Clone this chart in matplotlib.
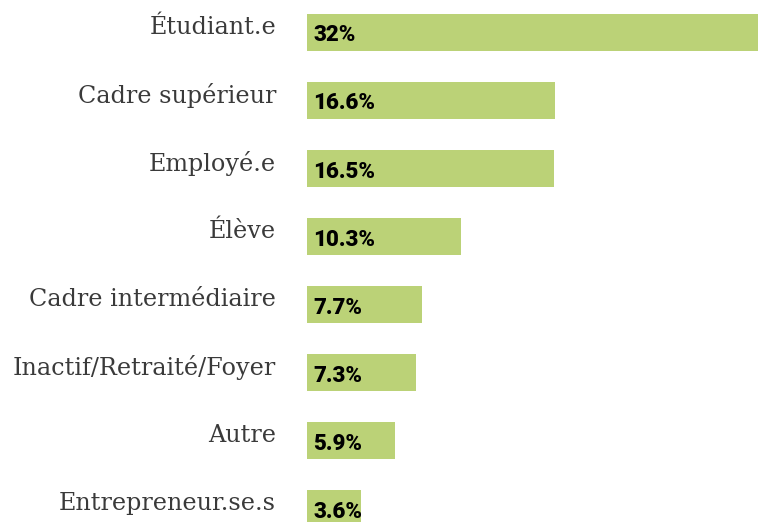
import matplotlib
matplotlib.use("Agg")
import matplotlib.pyplot as plt

categories = ["Étudiant.e", "Cadre supérieur", "Employé.e", "Élève",
              "Cadre intermédiaire", "Inactif/Retraité/Foyer", "Autre",
              "Entrepreneur.se.s"]
values = [32, 16.6, 16.5, 10.3, 7.7, 7.3, 5.9, 3.6]
value_labels = ["32%", "16.6%", "16.5%", "10.3%", "7.7%", "7.3%", "5.9%", "3.6%"]

W, H = 758, 522
fig = plt.figure(figsize=(W / 100, H / 100), dpi=100)
ax = fig.add_axes([307 / W, 0, 1 - 307 / W, 1])

ypos = list(range(len(categories)))
ax.barh(ypos, values, height=37 / 68, color="#bbd277", clip_on=True)
ax.set_xlim(0, 451 / 14.95)
ax.set_ylim(7 + 13.5 / 68, -32.5 / 68)
ax.axis("off")

for y, cat, lab in zip(ypos, categories, value_labels):
    ax.annotate(cat, xy=(0, y), xytext=(-31, 5), textcoords="offset pixels",
                ha="right", va="center", fontsize=17.2,
                family=["DejaVu Serif"], color="#3a3a3a",
                annotation_clip=False)
    ax.annotate(lab, xy=(0, y), xytext=(6, -3), textcoords="offset pixels",
                ha="left", va="center", fontsize=16, fontweight="heavy",
                family=["Roboto", "DejaVu Sans"], color="black",
                annotation_clip=False)

fig.savefig("out.png", dpi=100)
